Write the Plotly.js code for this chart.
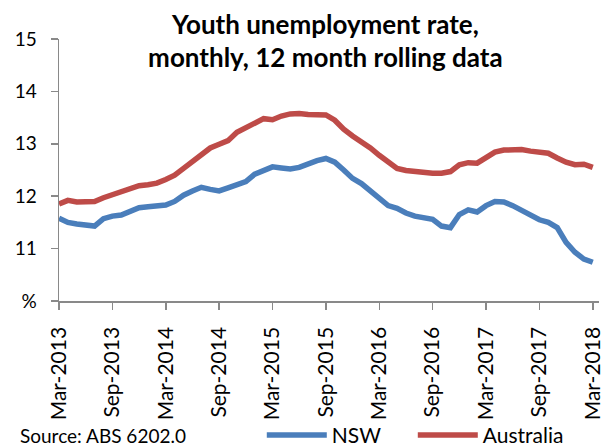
<!DOCTYPE html>
<html>
<head>
<meta charset="utf-8">
<script src="https://cdn.plot.ly/plotly-3.0.1.min.js"></script>
<style>html,body{margin:0;padding:0;background:#fff;}#chart{width:606px;height:448px;}</style>
</head>
<body>
<div id="chart"></div>
<script>
var months = [
 "Mar-2013","Apr-2013","May-2013","Jun-2013","Jul-2013","Aug-2013","Sep-2013","Oct-2013","Nov-2013","Dec-2013",
 "Jan-2014","Feb-2014","Mar-2014","Apr-2014","May-2014","Jun-2014","Jul-2014","Aug-2014","Sep-2014","Oct-2014","Nov-2014","Dec-2014",
 "Jan-2015","Feb-2015","Mar-2015","Apr-2015","May-2015","Jun-2015","Jul-2015","Aug-2015","Sep-2015","Oct-2015","Nov-2015","Dec-2015",
 "Jan-2016","Feb-2016","Mar-2016","Apr-2016","May-2016","Jun-2016","Jul-2016","Aug-2016","Sep-2016","Oct-2016","Nov-2016","Dec-2016",
 "Jan-2017","Feb-2017","Mar-2017","Apr-2017","May-2017","Jun-2017","Jul-2017","Aug-2017","Sep-2017","Oct-2017","Nov-2017","Dec-2017",
 "Jan-2018","Feb-2018","Mar-2018"
];
var nsw = [
 11.58,11.50,11.47,11.44,11.43,11.57,11.62,11.64,11.72,11.78,
 11.80,11.82,11.83,11.90,12.02,12.10,12.17,12.13,12.10,12.16,12.22,12.28,
 12.42,12.48,12.56,12.54,12.52,12.55,12.62,12.68,12.72,12.65,12.50,12.34,
 12.24,12.10,11.96,11.82,11.77,11.68,11.62,11.60,11.56,11.43,11.40,11.65,
 11.74,11.70,11.82,11.90,11.89,11.82,11.73,11.63,11.55,11.50,11.40,11.12,
 10.93,10.80,10.74
];
var australia = [
 11.85,11.92,11.89,11.89,11.90,11.97,12.03,12.10,12.16,12.20,
 12.22,12.25,12.32,12.40,12.53,12.66,12.81,12.92,12.99,13.06,13.22,13.30,
 13.40,13.48,13.46,13.53,13.57,13.58,13.56,13.55,13.55,13.45,13.28,13.15,
 13.05,12.92,12.78,12.64,12.53,12.49,12.47,12.45,12.44,12.44,12.47,12.60,
 12.64,12.63,12.75,12.84,12.88,12.89,12.89,12.86,12.84,12.82,12.73,12.65,
 12.60,12.61,12.55
];
var xTicks = ["Mar-2013","Sep-2013","Mar-2014","Sep-2014","Mar-2015","Sep-2015","Mar-2016","Sep-2016","Mar-2017","Sep-2017","Mar-2018"];
var yTickVals = [10,11,12,13,14,15];
var yTickText = ["%","11","12","13","14","15"];

var traces = [
 {x: months, y: nsw, name: "NSW", type: "scatter", mode: "lines",
  line: {color: "#4A7EBB", width: 5.5, shape: "linear"}},
 {x: months, y: australia, name: "Australia", type: "scatter", mode: "lines",
  line: {color: "#BE4B48", width: 5.5, shape: "linear"}}
];

var layout = {
 width: 606, height: 448,
 margin: {l: 59, r: 7, t: 39, b: 147, pad: 0},
 paper_bgcolor: "#ffffff", plot_bgcolor: "#ffffff",
 font: {family: "Lato, 'Open Sans', sans-serif", color: "#000000", size: 18},
 title: {
  text: "<b>Youth unemployment rate,<br>monthly, 12 month rolling data</b>",
  font: {family: "Lato, sans-serif", size: 26, color: "#000000"},
  xref: "container", x: 0.537, xanchor: "center",
  yref: "container", y: 0.925, yanchor: "top"
 },
 xaxis: {
  type: "category", range: [0, 60.7],
  tickvals: xTicks, ticktext: xTicks, tickangle: -90,
  ticks: "outside", ticklen: 7, tickwidth: 1.5, tickcolor: "#898989",
  showline: true, linecolor: "#898989", linewidth: 1.5,
  showgrid: false, zeroline: false,
  tickfont: {size: 21, family: "Lato, sans-serif", color: "#000000"},
  ticklabelstandoff: 9, fixedrange: true, automargin: false
 },
 yaxis: {
  range: [10, 15], tickvals: yTickVals, ticktext: yTickText,
  ticks: "outside", ticklen: 7, tickwidth: 1.5, tickcolor: "#898989",
  showline: true, linecolor: "#898989", linewidth: 1.5,
  showgrid: false, zeroline: false,
  tickfont: {size: 19, family: "Lato, sans-serif", color: "#000000"},
  ticklabelstandoff: 10, fixedrange: true, automargin: false
 },
 showlegend: true,
 legend: {
  orientation: "h", xref: "container", x: 0.432, xanchor: "left",
  yref: "container", y: 0.028, yanchor: "middle",
  font: {size: 21, family: "Lato, sans-serif", color: "#000000"},
  itemwidth: 60, entrywidth: 76, entrywidthmode: "pixels",
  bgcolor: "rgba(0,0,0,0)", traceorder: "normal"
 },
 annotations: [
  {text: "Source: ABS 6202.0", xref: "paper", yref: "paper",
   x: -0.076, xanchor: "left", y: -0.515, yanchor: "middle", showarrow: false,
   font: {size: 19, family: "Lato, sans-serif", color: "#000000"}}
 ]
};

Plotly.newPlot("chart", traces, layout, {displayModeBar: false, staticPlot: true});
</script>
</body>
</html>
